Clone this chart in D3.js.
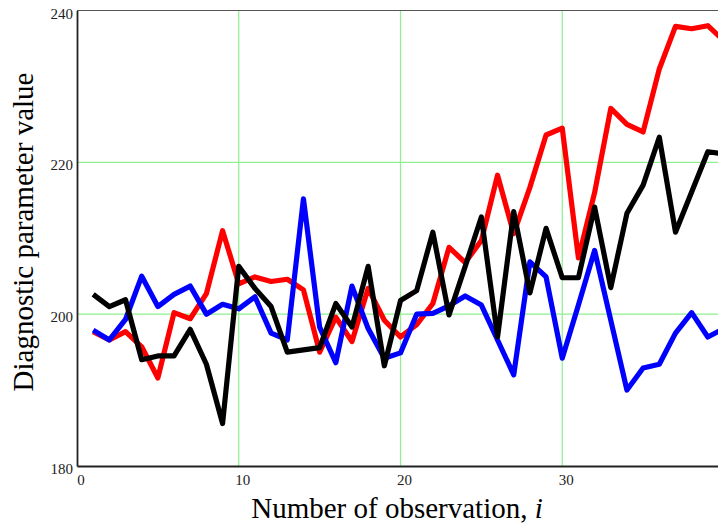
<!DOCTYPE html>
<html>
<head>
<meta charset="utf-8">
<script src="https://cdn.jsdelivr.net/npm/d3@7"></script>
<style>
  body { margin: 0; background: #fff; }
  svg { display: block; }
</style>
</head>
<body>
<div id="container"></div>
<script>
// data, observation i = 1..40
let obs = d3.range(1, 41);
let redValues = [197.7, 196.6, 197.7, 195.7, 191.6, 200.2, 199.4, 202.7, 211.0, 204.0,
                 204.9, 204.3, 204.6, 203.2, 195.0, 199.6, 196.4, 203.4, 199.2, 197.0,
                 198.6, 201.4, 208.8, 206.8, 209.7, 218.3, 210.6, 216.7, 223.6, 224.5,
                 207.4, 216.0, 227.1, 225.0, 224.0, 232.3, 237.9, 237.6, 238.0, 236.0];
let blueValues = [197.9, 196.6, 199.3, 205.0, 201.0, 202.6, 203.7, 200.0, 201.3, 200.7,
                  202.3, 197.5, 196.6, 215.2, 198.3, 193.6, 203.7, 198.1, 194.2, 194.9,
                  200.0, 200.1, 201.1, 202.4, 201.2, 196.6, 192.0, 206.9, 204.9, 194.2,
                  201.2, 208.4, 199.2, 190.0, 192.9, 193.4, 197.5, 200.2, 197.0, 198.1];
let blackValues = [202.6, 201.0, 201.9, 194.0, 194.5, 194.5, 198.0, 193.4, 185.6, 206.3,
                   203.4, 201.0, 195.0, 195.3, 195.6, 201.4, 198.3, 206.3, 193.2, 201.8,
                   203.1, 210.8, 199.9, 206.3, 212.8, 197.0, 213.5, 202.8, 211.3, 204.8,
                   204.8, 214.1, 203.5, 213.3, 217.0, 223.3, 210.8, 216.1, 221.4, 221.1];
let xTicks = [0, 10, 20, 30];
let yTicks = [180, 200, 220, 240];
let xGrid = [10, 20, 30];
let yGrid = [200, 220];

let w = 718;
let h = 524;
let serif = "Liberation Serif, Times New Roman, serif";

let viz = d3.select("#container")
  .append("svg")
    .attr("width", w)
    .attr("height", h)
;

// the plot runs a little past the right edge of the window, like the picture
let xScale = d3.scaleLinear().domain([0, 40]).range([77, 724]);
let yScale = d3.scaleLinear().domain([180, 240]).range([466, 10.5]);

// green grid
viz.append("g").selectAll("line").data(xGrid).enter().append("line")
    .attr("x1", d => xScale(d)).attr("x2", d => xScale(d))
    .attr("y1", yScale(180)).attr("y2", yScale(240))
    .attr("stroke", "#8ef08e").attr("stroke-width", 1.2);
viz.append("g").selectAll("line").data(yGrid).enter().append("line")
    .attr("x1", xScale(0)).attr("x2", xScale(40))
    .attr("y1", d => yScale(d)).attr("y2", d => yScale(d))
    .attr("stroke", "#8ef08e").attr("stroke-width", 1.2);

// top frame line
viz.append("line")
    .attr("x1", xScale(0)).attr("x2", xScale(40))
    .attr("y1", yScale(240)).attr("y2", yScale(240))
    .attr("stroke", "#555").attr("stroke-width", 1.2);

// axes
let xAxis = d3.axisBottom(xScale).tickValues(xTicks).tickSize(0).tickPadding(8);
let xAxisGroup = viz.append("g").attr("transform", "translate(0," + yScale(180) + ")").call(xAxis);
xAxisGroup.select(".domain").attr("stroke", "#222").attr("stroke-width", 1.8);
xAxisGroup.selectAll("text")
    .attr("font-family", serif)
    .attr("font-size", 15).attr("fill", "#222")
    .attr("dx", 3.5);

let yAxis = d3.axisLeft(yScale).tickValues(yTicks).tickSize(0).tickPadding(4);
let yAxisGroup = viz.append("g").attr("transform", "translate(" + xScale(0) + ",0)").call(yAxis);
yAxisGroup.select(".domain").attr("stroke", "#222").attr("stroke-width", 1.8);
yAxisGroup.selectAll("text")
    .attr("font-family", serif)
    .attr("font-size", 15).attr("fill", "#222")
    .attr("dy", "0.5em");

// series lines
let line = d3.line()
  .x(function(d, i){ return xScale(obs[i]); })
  .y(function(d){ return yScale(d); });

let series = [
  { values: redValues, color: "#ff0000" },
  { values: blueValues, color: "#0000ff" },
  { values: blackValues, color: "#000000" }
];

viz.append("g").selectAll("path").data(series).enter().append("path")
    .attr("d", d => line(d.values))
    .attr("fill", "none")
    .attr("stroke", d => d.color)
    .attr("stroke-width", 5.2)
    .attr("stroke-linejoin", "round");

// axis titles
viz.append("text")
    .attr("x", 397).attr("y", 518)
    .attr("text-anchor", "middle")
    .attr("font-family", serif)
    .attr("font-size", 29)
    .text("Number of observation, ")
  .append("tspan")
    .attr("font-style", "italic")
    .text("i");

viz.append("text")
    .attr("transform", "translate(33,232) rotate(-90)")
    .attr("text-anchor", "middle")
    .attr("font-family", serif)
    .attr("font-size", 29)
    .text("Diagnostic parameter value");
</script>
</body>
</html>
